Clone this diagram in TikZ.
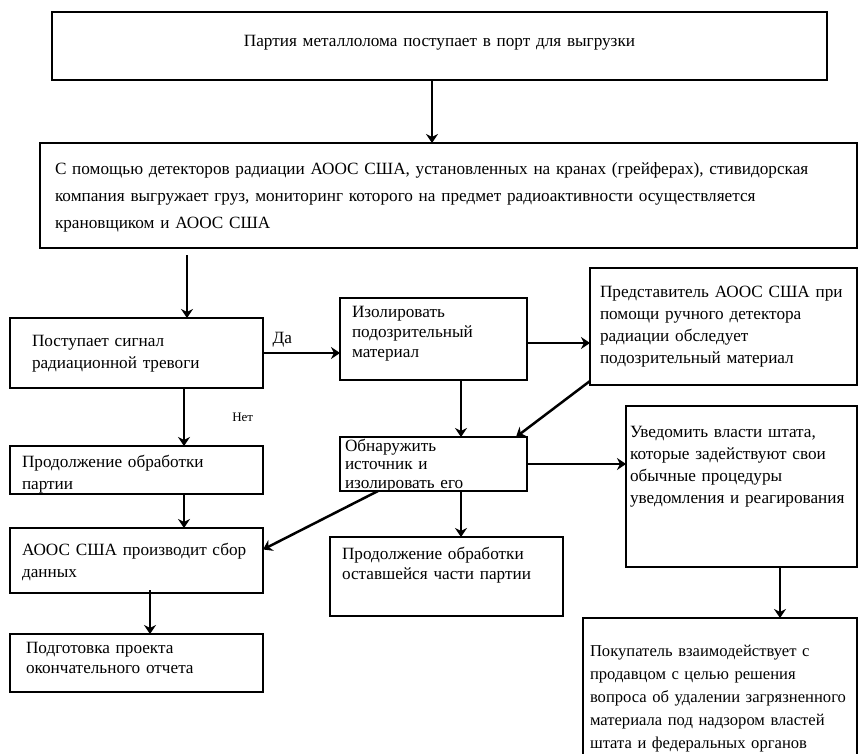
\documentclass[tikz,border=0pt]{standalone}
\usepackage{fontspec}
\setmainfont{Liberation Serif}
\usepackage{tikz}
\usetikzlibrary{positioning, arrows.meta}
\tikzset{
->, % every connector is directed
>={Stealth[length=9pt, width=12pt, inset=3pt]}, % head of the connectors
step box/.style={draw, anchor=north west, align=left, inner ysep=0pt, outer sep=0pt, font=\fontsize{17.2}{22}\selectfont}, % one step of the procedure
answer/.style={inner sep=2pt, font=\fontsize{17.2}{20}\selectfont}, % yes / no on an edge
}

\begin{document}
\begin{tikzpicture}[x=1pt, y=-1pt, line width=2.5pt]
                \useasboundingbox (0,0) rectangle (859,754);
                \clip (0,0) rectangle (859,754);
                % steps
                \node[step box, align=center, text width=755pt, inner xsep=10pt, text height=35pt, text depth=33pt] (arrive) at (52,12) {Партия металлолома поступает в порт для выгрузки};
                \node[step box, text width=787pt, inner xsep=15pt, text height=32pt, text depth=73pt, font=\fontsize{17.2}{27}\selectfont] (unload) at (40,143) {С помощью детекторов радиации АООС США, установленных на кранах (грейферах), стивидорская\\ компания выгружает груз, мониторинг которого на предмет радиоактивности осуществляется\\ крановщиком и АООС США};
                \node[step box, text width=209pt, inner xsep=22pt, text height=28pt, text depth=42pt] (alarm) at (10,318) {Поступает сигнал\\ радиационной тревоги};
                \node[step box, text width=163pt, inner xsep=12pt, text height=19pt, text depth=63pt, font=\fontsize{17.2}{20}\selectfont] (isolate) at (340,298) {Изолировать\\ подозрительный\\ материал};
                \node[step box, text width=247pt, inner xsep=10pt, text height=29pt, text depth=88pt] (inspect) at (590,268) {Представитель АООС США при\\ помощи ручного детектора\\ радиации обследует\\ подозрительный материал};
                \node[step box, text width=229pt, inner xsep=12pt, text height=21pt, text depth=27pt] (goon) at (10,446) {Продолжение обработки\\ партии};
                \node[step box, text width=177pt, inner xsep=5pt, text height=14pt, text depth=40pt, font=\fontsize{17.2}{18.5}\selectfont] (locate) at (340,437) {Обнаружить\\ источник и\\ изолировать его};
                \node[step box, text width=223pt, inner xsep=4pt, text height=31pt, text depth=130pt] (notify) at (626,406) {Уведомить власти штата,\\ которые задействуют свои\\ обычные процедуры\\ уведомления и реагирования};
                \node[step box, text width=229pt, inner xsep=12pt, text height=27pt, text depth=38pt] (collect) at (10,528) {АООС США производит сбор\\ данных};
                \node[step box, text width=209pt, inner xsep=12pt, text height=22pt, text depth=57pt, font=\fontsize{17.2}{20}\selectfont] (rest) at (330,537) {Продолжение обработки\\ оставшейся части партии};
                \node[step box, text width=221pt, inner xsep=16pt, text height=19pt, text depth=39pt, font=\fontsize{17.2}{20}\selectfont] (report) at (10,634) {Подготовка проекта\\ окончательного отчета};
                \node[step box, text width=260pt, inner xsep=7pt, text height=38pt, text depth=114pt, font=\fontsize{16.6}{23}\selectfont] (buyer) at (583,618) {Покупатель взаимодействует с\\ продавцом с целью решения\\ вопроса об удалении загрязненного\\ материала под надзором властей\\ штата и федеральных органов};
                % connectors
                \draw ([xshift=-7.5pt]arrive.south) -- ([xshift=-7.5pt]arrive.south |- unload.north);
                \draw ([xshift=50.5pt,yshift=-7pt]alarm.north |- unload.south) -- ([xshift=50.5pt]alarm.north);
                \draw (alarm.east) -- (alarm.east -| isolate.west) node[answer, pos=.25, above=3pt] {Да};
                \draw ([yshift=-4pt]isolate.east) -- ([yshift=-4pt]isolate.east -| inspect.west);
                \draw ([xshift=47.5pt]alarm.south) -- ([xshift=47.5pt]alarm.south |- goon.north) node[answer, midway, right=45pt, font=\fontsize{13}{15}\selectfont] {Нет};
                \draw ([xshift=27.5pt]isolate.south) -- ([xshift=27.5pt]isolate.south |- locate.north);
                \draw ([yshift=4pt]inspect.south west) -- ([xshift=-11pt]locate.north east);
                \draw (locate.east) -- (locate.east -| notify.west);
                \draw ([xshift=47.5pt]goon.south) -- ([xshift=47.5pt]goon.south |- collect.north);
                \draw ([xshift=-55.5pt]locate.south) -- ([yshift=11pt]collect.east);
                \draw ([xshift=27.5pt]locate.south) -- ([xshift=27.5pt]locate.south |- rest.north);
                \draw ([xshift=13.5pt,yshift=3pt]collect.south) -- ([xshift=13.5pt]collect.south |- report.north);
                \draw ([xshift=38.5pt]notify.south) -- ([xshift=38.5pt]notify.south |- buyer.north);
\end{tikzpicture}
\end{document}
